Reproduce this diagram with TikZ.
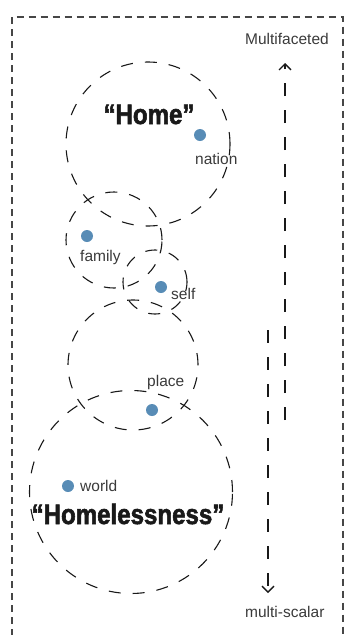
\documentclass[tikz,border=0pt]{standalone}
\usepackage{fontspec}
\setmainfont{Liberation Sans}
\newfontfamily\titlefont[FakeStretch=0.86,FakeBold=2]{Liberation Sans Bold}
\usepackage{tikz}
\usetikzlibrary{arrows.meta,positioning}
\definecolor{dotblue}{RGB}{88,140,182}
\definecolor{inkgrey}{RGB}{58,58,58}
\definecolor{framegrey}{RGB}{70,70,70}

\begin{document}
\begin{tikzpicture}[x=1pt, y=-1pt,
    ring/.style={circle, draw=black!90, line width=1.1pt, dash pattern=on 12pt off 12pt, inner sep=0pt, outer sep=0pt},
    dot/.style={circle, fill=dotblue, inner sep=0pt, minimum size=12pt},
    lbl/.style={anchor=base west, inner sep=0pt, text=inkgrey, font=\fontsize{15.5}{17}\selectfont},
    big/.style={anchor=base, inner sep=0pt, text=black!90, font=\titlefont\fontsize{28}{30}\selectfont},
    scale arrow/.style={draw=black!90, line width=2.4pt, dash pattern=on 13pt off 14pt,
      -{Straight Barb[length=6pt,width=12pt,line width=1.4pt]}, shorten >=-2pt}]
   \useasboundingbox (0,0) rectangle (344,635);
   % outer frame, open at the bottom
   \draw[framegrey, line width=2pt, dash pattern=on 7pt off 5pt] (11.5,660) -- (11.5,17) -- (343,17) -- (343,660);

   % the five scales as overlapping circles
   \begin{scope}[every node/.style={ring}]
    \node (c1) [minimum size=164pt] at (148,144) {};
    \node (c2) [minimum size=96pt]  at (114,240) {};
    \node (c3) [minimum size=64pt]  at (155,282) {};
    \node (c4) [minimum size=130pt] at (133,365) {};
    \node (c5) [minimum size=203pt] at (131,492) {};
   \end{scope}

   \begin{scope}[every node/.style={dot}]
    \node (d1) at (200,135) {};
    \node (d2) at (87,236) {};
    \node (d3) at (161,287) {};
    \node (d4) at (152,410) {};
    \node (d5) at (68,486) {};
   \end{scope}

   \begin{scope}[every node/.style={lbl}]
    \node (nation) at (195,164) {nation};
    \node (family) at (80,261) {family};
    \node (self)   at (171,299) {self};
    \node (place)  at (147,386) {place};
    \node (world)  at (80,491) {world};
    \node (multi)  at (245,44) {Multifaceted};
    \node (scalar) at (245,617) {multi-scalar};
   \end{scope}

   \node (home) [big] at (149,124) {“Home”};
   \node (homeless) [big] at (128,524) {“Homelessness”};

   % the two axes
   \coordinate (up0) at (285,420);
   \coordinate (up1) at (285,65);
   \coordinate (dn0) at (268,330);
   \coordinate (dn1) at (268,591);
   \draw[scale arrow] (up0) -- (up1);
   \draw[scale arrow] (dn0) -- (dn1);
\end{tikzpicture}
\end{document}
